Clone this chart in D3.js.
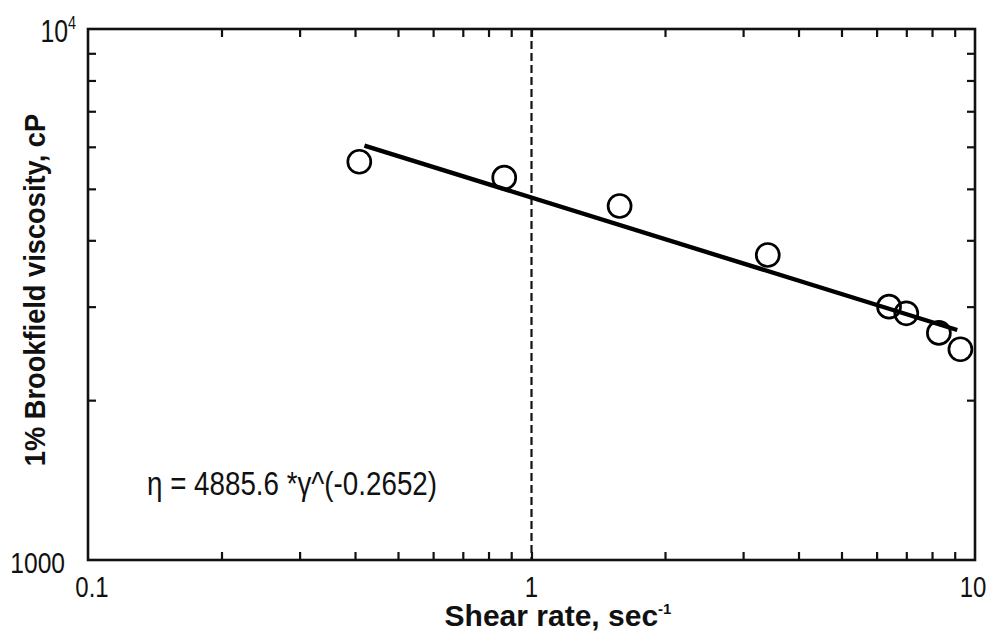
<!DOCTYPE html>
<html>
<head>
<meta charset="utf-8">
<script src="https://cdn.jsdelivr.net/npm/d3@7"></script>
<style>
  body { margin: 0; background: #fff; }
  svg { display: block; }
  text { font-family: "Liberation Sans", Arial, sans-serif; fill: #111; }
</style>
</head>
<body>
<svg width="988" height="633"></svg>
<script>
// measured points
var shearRate = [0.409, 0.868, 1.58, 3.41, 6.40, 7.0, 8.29, 9.27];
var viscosity = [5623, 5248, 4642, 3753, 3000, 2915, 2677, 2494];

// fitted power law line, end points
var fitX = [0.42, 9.12];
var fitY = [6030, 2711];

var xMinor = [0.2, 0.3, 0.4, 0.5, 0.6, 0.7, 0.8, 0.9, 1, 2, 3, 4, 5, 6, 7, 8, 9];
var yMinor = [2000, 3000, 4000, 5000, 6000, 7000, 8000, 9000];
var xLabels = [0.1, 1, 10];
var xLabelText = ['0.1', '1', '10'];

var svg = d3.select('svg');
var pLeft = 88, pRight = 975, pTop = 29, pBottom = 560;

var x = d3.scaleLog().domain([0.1, 10]).range([pLeft, pRight]);
var y = d3.scaleLog().domain([1000, 10000]).range([pBottom, pTop]);

// ticks, all pointing inwards
function ticks(axis, tx, ty) {
    var g = svg.append('g').attr('transform', 'translate(' + tx + ',' + ty + ')').call(axis);
    g.select('.domain').remove();
    g.selectAll('line').attr('stroke', '#111').attr('stroke-width', 2.2);
}
ticks(d3.axisBottom(x).tickValues(xMinor).tickSize(-8).tickFormat(''), 0, pBottom);
ticks(d3.axisTop(x).tickValues(xMinor).tickSize(-8).tickFormat(''), 0, pTop);
ticks(d3.axisLeft(y).tickValues(yMinor).tickSize(-8).tickFormat(''), pLeft, 0);
ticks(d3.axisRight(y).tickValues(yMinor).tickSize(-8).tickFormat(''), pRight, 0);

// frame
svg.append('rect')
    .attr('x', pLeft).attr('y', pTop)
    .attr('width', pRight - pLeft).attr('height', pBottom - pTop)
    .attr('fill', 'none').attr('stroke', '#111').attr('stroke-width', 2.6);

// dashed line at shear rate 1
svg.append('line')
    .attr('x1', x(1)).attr('x2', x(1))
    .attr('y1', pTop).attr('y2', pBottom)
    .attr('stroke', '#111').attr('stroke-width', 2.2)
    .attr('stroke-dasharray', '8,4');

// fit line
svg.append('line')
    .attr('x1', x(fitX[0])).attr('y1', y(fitY[0]))
    .attr('x2', x(fitX[1])).attr('y2', y(fitY[1]))
    .attr('stroke', '#000').attr('stroke-width', 4.4);

// points
svg.selectAll('circle.pt')
    .data(shearRate)
    .enter()
    .append('circle')
    .attr('class', 'pt')
    .attr('cx', function(d) { return x(d); })
    .attr('cy', function(d, i) { return y(viscosity[i]); })
    .attr('r', 11.5)
    .attr('fill', 'none')
    .attr('stroke', '#000')
    .attr('stroke-width', 2.7);

// condensed text helper
function label(px, py, size, anchor, sx, rot) {
    var t = svg.append('text')
        .attr('transform', 'translate(' + px + ',' + py + ')' + (rot ? ' rotate(' + rot + ')' : '') + ' scale(' + sx + ',1)')
        .attr('text-anchor', anchor)
        .style('font-size', size + 'px');
    return t;
}

// x tick labels
xLabels.forEach(function(v, i) {
    label(x(v) + (i == 0 ? 4 : (i == 2 ? -2 : 0)), 597, 30, 'middle', 0.8).text(xLabelText[i]);
});

// y tick labels
label(65, 573, 30, 'end', 0.82).text('1000');
var t4 = label(76, 42, 31, 'end', 0.8);
t4.append('tspan').text('10');
t4.append('tspan').attr('dy', -13).style('font-size', '18px').text('4');

// axis titles
var xt = label(558, 626, 30, 'middle', 1.0).style('font-weight', 'bold');
xt.append('tspan').text('Shear rate, sec');
xt.append('tspan').attr('dy', -12).style('font-size', '15px').text('-1');

label(45, 290, 29, 'middle', 0.94, -90).style('font-weight', 'bold')
    .text('1% Brookfield viscosity, cP');

// fit equation
svg.append('text')
    .attr('x', 147).attr('y', 495)
    .attr('textLength', 290).attr('lengthAdjust', 'spacingAndGlyphs')
    .style('font-size', '33px')
    .text('\u03b7 = 4885.6 *\u03b3^(-0.2652)');
</script>
</body>
</html>
